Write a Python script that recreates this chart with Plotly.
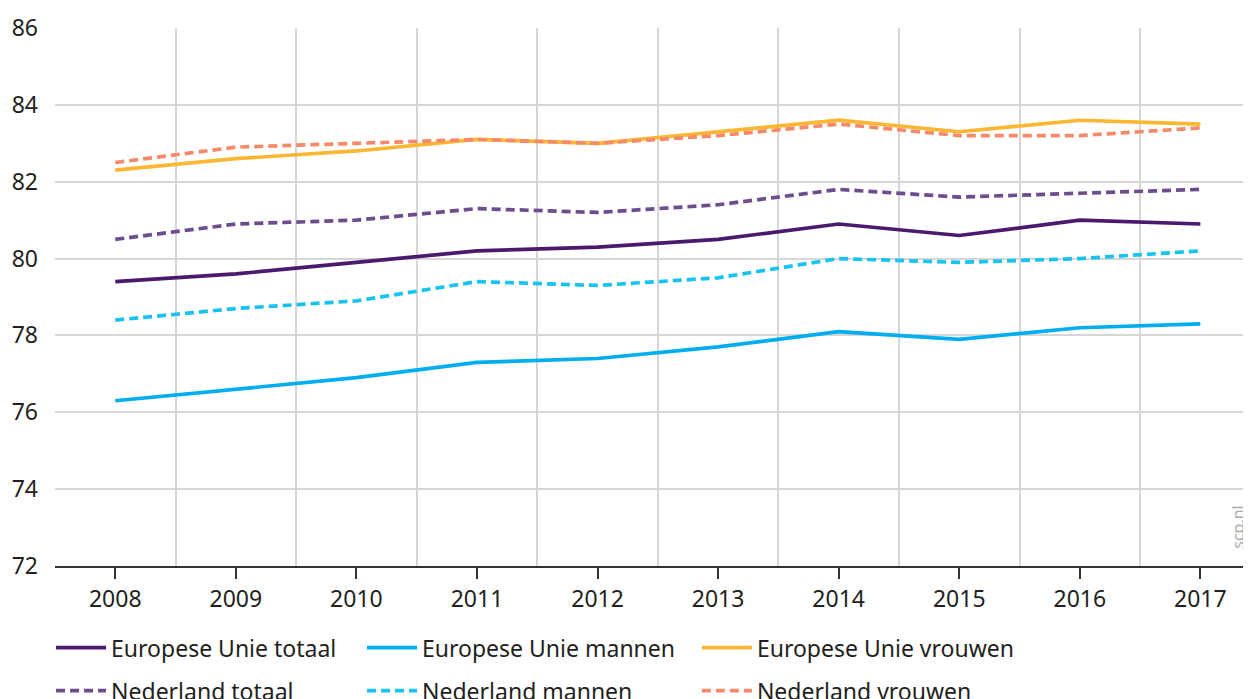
import plotly.graph_objects as go

# levensverwachting bij geboorte, 2008-2017
years = [2008, 2009, 2010, 2011, 2012, 2013, 2014, 2015, 2016, 2017]

eu_totaal = [79.4, 79.6, 79.9, 80.2, 80.3, 80.5, 80.9, 80.6, 81.0, 80.9]
eu_mannen = [76.3, 76.6, 76.9, 77.3, 77.4, 77.7, 78.1, 77.9, 78.2, 78.3]
eu_vrouwen = [82.3, 82.6, 82.8, 83.1, 83.0, 83.3, 83.6, 83.3, 83.6, 83.5]
nl_totaal = [80.5, 80.9, 81.0, 81.3, 81.2, 81.4, 81.8, 81.6, 81.7, 81.8]
nl_mannen = [78.4, 78.7, 78.9, 79.4, 79.3, 79.5, 80.0, 79.9, 80.0, 80.2]
nl_vrouwen = [82.5, 82.9, 83.0, 83.1, 83.0, 83.2, 83.5, 83.2, 83.2, 83.4]

y_ticks = [72, 74, 76, 78, 80, 82, 84, 86]

FONT = "Noto Sans"
TXT = "#231f20"

series = [
    ("Europese Unie totaal", eu_totaal, "#4b1a6e", "solid", "legend"),
    ("Nederland totaal", nl_totaal, "#6e4d8e", "9px,5px", "legend"),
    ("Europese Unie mannen", eu_mannen, "#00aeef", "solid", "legend2"),
    ("Nederland mannen", nl_mannen, "#19c3f0", "9px,5px", "legend2"),
    ("Europese Unie vrouwen", eu_vrouwen, "#fbb634", "solid", "legend3"),
    ("Nederland vrouwen", nl_vrouwen, "#f58a6b", "9px,5px", "legend3"),
]

fig = go.Figure()
for name, vals, col, dash, leg in series:
    fig.add_trace(go.Scatter(
        x=years, y=vals, name=name, mode="lines",
        line=dict(color=col, width=3.7, dash=dash),
        legend=leg, legendgroup=name,
    ))

leg_common = dict(
    orientation="v", yanchor="top", xanchor="left",
    font=dict(family=FONT, size=23, color=TXT),
    bgcolor="rgba(0,0,0,0)", tracegroupgap=10, itemwidth=50,
    traceorder="grouped",
)

# the page body has an 8px margin, so the figure is drawn 8px smaller
fig.update_layout(
    width=1243, height=691,
    margin=dict(l=47, r=0, t=20, b=133, autoexpand=False),
    paper_bgcolor="white", plot_bgcolor="white",
    font=dict(family=FONT, size=23, color=TXT),
    showlegend=True,
    legend=dict(x=-0.0033, y=-0.112, **leg_common),
    legend2=dict(x=0.2567, y=-0.112, **leg_common),
    legend3=dict(x=0.5367, y=-0.112, **leg_common),
    xaxis=dict(
        range=[2007.5, 2017.42], tickvals=years, ticktext=[str(y) for y in years],
        showgrid=False, zeroline=False,
        showline=True, linecolor="#333333", linewidth=2,
        ticks="outside", ticklen=11, tickwidth=2, tickcolor="#333333",
        tickfont=dict(family=FONT, size=23, color=TXT),
        minor=dict(tick0=2007.5, dtick=1, showgrid=True, gridcolor="#d6d6d6",
                   gridwidth=2, ticks=""),
    ),
    yaxis=dict(
        range=[72, 86], tickvals=y_ticks, showgrid=True, gridcolor="#d6d6d6",
        gridwidth=2, zeroline=False, showline=False, ticks="",
        ticklabelstandoff=16,
        tickfont=dict(family=FONT, size=23, color=TXT),
    ),
    annotations=[dict(
        text="scp.nl", xref="paper", yref="paper", x=0.989, y=0.028,
        textangle=-90, showarrow=False, xanchor="center", yanchor="bottom",
        font=dict(family=FONT, size=16, color="#aaaaaa"),
    )],
)

fig.write_html("out.html")
